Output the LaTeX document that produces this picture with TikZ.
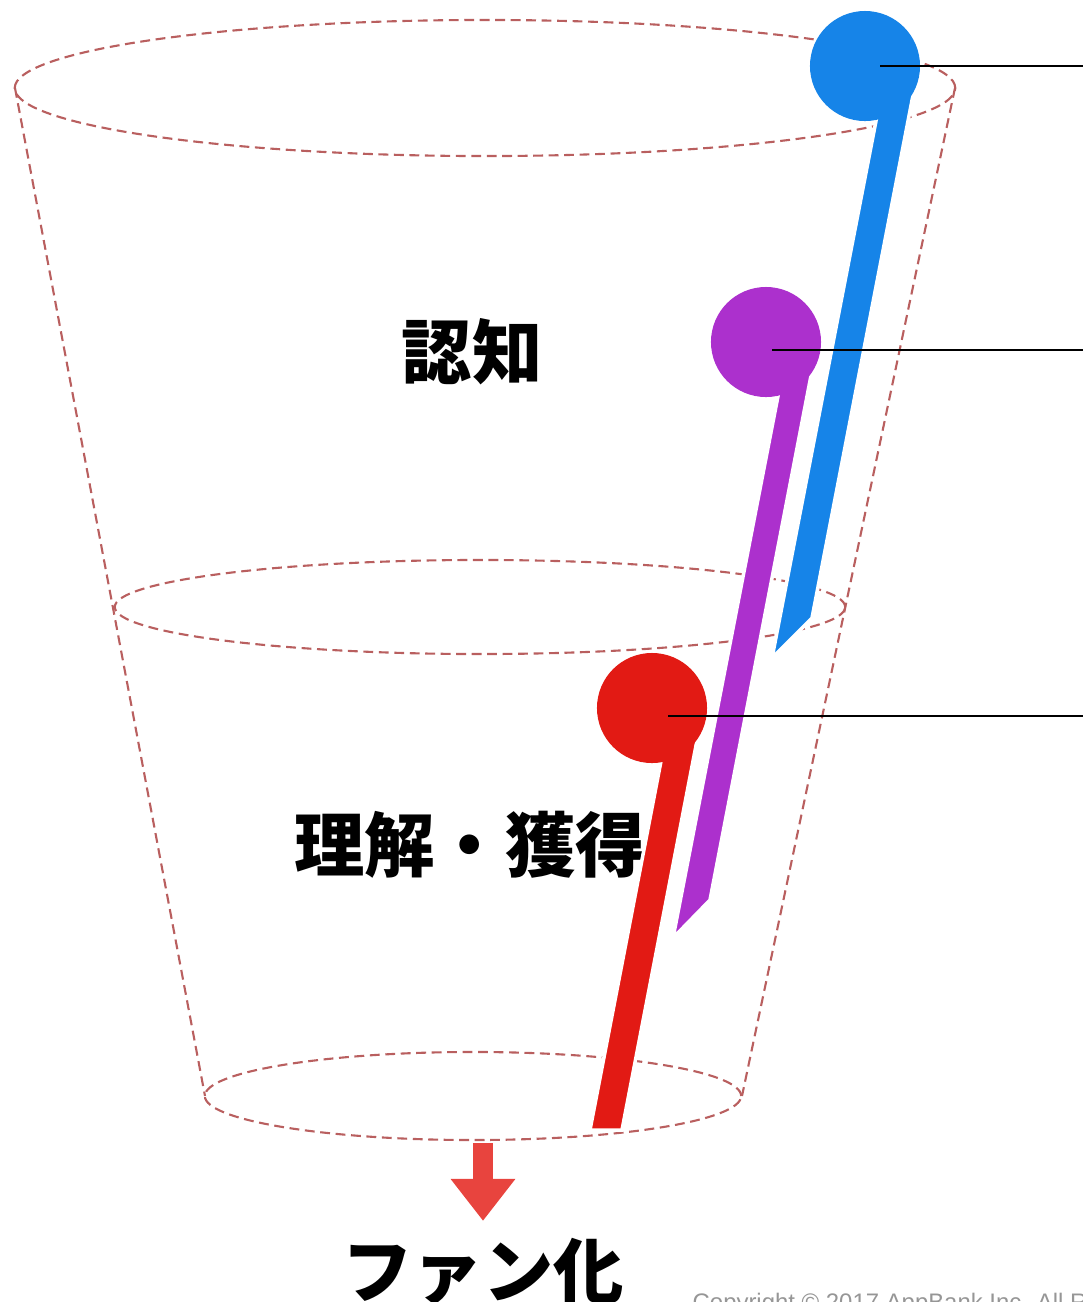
\documentclass[tikz,border=0pt]{standalone}
\usepackage{fontspec}
\setmainfont{Liberation Sans}
\newfontfamily\jpfont{Noto Sans CJK JP}
\usetikzlibrary{arrows.meta}

\definecolor{funnelline}{RGB}{185,95,95}
\definecolor{pinblue}{RGB}{22,132,232}
\definecolor{pinpurple}{RGB}{172,48,205}
\definecolor{pinred}{RGB}{226,26,20}
\definecolor{arrowred}{RGB}{232,68,62}
\definecolor{copygray}{RGB}{150,150,150}

\tikzset{
    funnel/.style={funnelline, line width=0.6pt, dash pattern=on 2.8pt off 1.6pt},
    pinhead/.style={circle, minimum size=1.1cm, inner sep=0pt},
    stem/.style={draw=white, line width=1pt},
    leader/.style={black, line width=0.5pt},
    stage/.style={font=\jpfont\bfseries\fontsize{20}{23}\selectfont, inner sep=0pt},
}

\begin{document}
\begin{tikzpicture}[x=0.01cm, y=-0.01cm]
            \useasboundingbox (0,0) rectangle (1083,1302);

            % Draw the three rims of the funnel
            \draw[funnel] (485,88) ellipse [x radius=4.7cm, y radius=0.68cm];
            \draw[funnel] (480,607) ellipse [x radius=3.65cm, y radius=0.47cm];
            \draw[funnel] (473,1096) ellipse [x radius=2.68cm, y radius=0.44cm];

            % Draw the two sides of the funnel
            \draw[funnel] (15,88) -- (205,1096);
            \draw[funnel] (955,88) -- (742,1096);

            % Stage labels
            \node[stage] (ninchi) at (472,352) {認知};
            \node[stage] (rikai) at (470,845) {理解・獲得};

            % Outlet arrow and its label
            \node[stage] (fan) at (483,1272) {ファン化};
            \coordinate (outlet) at (483,1143);
            \draw[arrowred, line width=0.2cm, -{Triangle[width=0.62cm, length=0.42cm]},
                shorten >=0.17cm] (outlet) -- (outlet |- fan.north);

            % Draw the blue pin
            \filldraw[stem, fill=pinblue] (882,90) -- (914,90) -- (812,618) -- (772,658) -- cycle;
            \node[pinhead, fill=pinblue] (bluepin) at (865,66) {};

            % Draw the purple pin
            \filldraw[stem, fill=pinpurple] (785,360) -- (814,360) -- (710,900) -- (673,938) -- cycle;
            \node[pinhead, fill=pinpurple] (purplepin) at (766,342) {};

            % Draw the red pin
            \filldraw[stem, fill=pinred] (667,730) -- (699,730) -- (622,1130) -- (590,1130) -- cycle;
            \node[pinhead, fill=pinred] (redpin) at (652,708) {};

            % Leader lines out to the right edge
            \coordinate (blueend) at (1083,66);
            \coordinate (purpleend) at (1083,350);
            \coordinate (redend) at (1083,716);
            \draw[leader] ([shift={(0.15cm,0)}]bluepin.center) -- (blueend);
            \draw[leader] ([shift={(0.06cm,-0.08cm)}]purplepin.center) -- (purpleend);
            \draw[leader] ([shift={(0.16cm,-0.08cm)}]redpin.center) -- (redend);

            % Copyright line, cut by the page edge
            \node[anchor=base west, text=copygray, inner sep=0pt,
                font=\fontsize{6.8}{8}\selectfont] (copyright) at (692,1310)
                {Copyright © 2017 AppBank Inc. All Rights Reserved.};
\end{tikzpicture}
\end{document}
